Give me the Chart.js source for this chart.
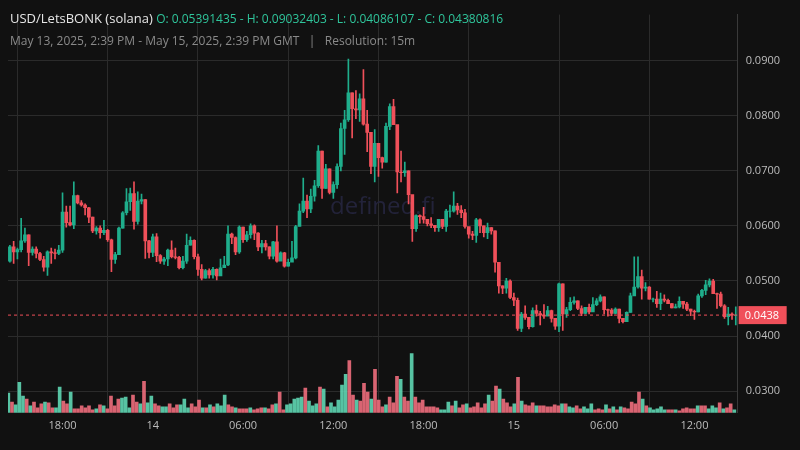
<!DOCTYPE html>
<html>
<head>
<meta charset="utf-8">
<script src="https://cdn.jsdelivr.net/npm/chart.js@4/dist/chart.umd.min.js"></script>
<style>
  body { margin: 0; background: #111111; font-family: "Open Sans", sans-serif; }
  #wrap { position: relative; width: 800px; height: 450px; }
  #head { position: absolute; left: 10px; top: 9px; font-size: 13px; color: #e6e6e6; }
  #head .ohlc { color: #2fc59b; font-size: 12px; }
  #sub { position: absolute; left: 10px; top: 32px; font-size: 12px; color: #8a8a8a; }
</style>
</head>
<body>
<div id="wrap">
  <canvas id="chart" width="800" height="450"></canvas>
  <div id="head">USD/LetsBONK (solana) <span class="ohlc">O: 0.05391435 - H: 0.09032403 - L: 0.04086107 - C: 0.04380816</span></div>
  <div id="sub">May 13, 2025, 2:39 PM - May 15, 2025, 2:39 PM GMT &nbsp;&nbsp;|&nbsp;&nbsp; Resolution: 15m</div>
</div>
<script>
// prices in units of 0.0001
const firstOpen = 536;
const closes = [
  562,553,557,573,584,552,558,550,539,525,553,551,550,556,625,606,602,655,642,638,633,616,591,596,588,592,575,539,548,596,624,644,
  659,608,645,648,573,552,580,546,536,540,556,544,543,524,536,565,574,544,521,505,519,511,521,509,524,529,585,579,553,598,575,584,
  600,587,562,568,562,545,571,536,551,527,534,542,599,627,645,631,654,673,736,668,704,661,675,708,777,793,842,813,811,831,785,770,
  708,750,724,716,781,817,784,698,697,700,657,595,619,617,612,604,601,597,612,599,627,627,636,629,624,599,585,583,611,600,588,597,
  591,534,491,487,500,470,465,414,440,434,417,446,441,438,436,446,432,418,495,440,448,461,464,450,441,452,444,457,464,471,448,447,
  441,449,432,426,443,473,489,508,487,489,467,467,459,467,465,459,451,453,463,458,449,445,444,473,483,493,500,477,476,455,435,440,438,438
];
const highs = [
  565,572,560,614,596,584,562,562,552,545,555,560,558,565,660,636,636,680,656,646,640,634,616,599,600,610,594,576,552,598,626,668,
  669,680,662,658,648,574,585,586,548,543,558,573,560,545,545,585,580,575,549,530,521,522,525,522,540,545,600,587,580,600,598,590,
  604,602,588,574,574,562,572,600,553,552,540,572,601,640,687,656,667,683,746,736,712,704,680,713,787,810,903,842,846,840,884,810,
  770,775,750,725,787,822,830,698,736,716,700,636,620,620,634,612,615,601,612,612,630,638,662,641,637,630,590,590,614,613,600,605,
  597,591,534,491,505,502,478,469,443,455,434,451,456,445,457,454,447,432,496,495,452,470,471,464,455,452,458,470,468,475,471,449,
  450,451,449,432,444,478,544,544,520,497,490,469,481,478,475,467,459,458,471,462,461,449,447,476,485,501,504,503,478,480,457,452,442,453
];
const lows = [
  534,532,540,553,570,528,547,542,537,518,510,532,540,548,552,598,600,595,640,636,620,606,588,585,578,584,572,517,532,570,596,620,
  628,594,603,640,541,542,544,535,532,530,528,542,540,522,522,532,565,540,510,502,505,505,505,502,522,526,528,568,548,550,570,572,
  578,575,555,551,556,540,540,534,537,525,527,540,540,600,624,615,624,645,670,650,668,658,650,668,700,730,790,760,795,790,783,735,
  695,680,690,705,716,775,784,660,680,690,640,572,590,605,605,600,597,590,590,595,590,616,625,621,615,596,578,575,570,588,580,577,
  585,516,478,477,478,468,455,410,408,430,413,416,436,420,432,437,425,412,408,410,434,446,458,448,437,440,440,445,455,462,440,436,
  437,440,424,424,426,443,485,487,467,482,467,462,452,448,462,459,451,451,451,450,446,437,430,444,470,475,489,477,450,453,432,420,430,420
];
// volume bar heights (relative)
const volumes = [
  60,33,24,93,51,42,21,33,15,27,33,30,15,15,78,36,27,63,12,12,21,15,21,9,12,24,21,12,51,21,42,45,48,15,54,33,27,96,30,51,27,21,18,18,27,15,24,24,42,15,27,18,39,15,15,24,18,27,21,54,24,18,15,12,12,12,15,
  9,12,15,15,12,24,27,63,9,24,27,42,45,48,75,36,21,27,78,72,18,30,18,39,84,117,159,54,39,36,90,63,42,132,39,18,24,48,30,111,102,48,36,180,48,30,39,18,18,18,15,9,9,33,21,36,15,24,27,15,18,30,15,27,54,36,81,72,
  42,30,18,27,108,36,24,21,30,21,21,21,18,18,24,21,27,27,18,15,21,12,18,12,27,9,12,9,24,12,18,9,18,15,12,33,27,63,42,21,15,9,12,18,9,9,9,9,6,12,15,12,12,21,21,21,12,21,15,30,12,15,27,9
];
// indexes of green (up) volume bars
const volumeGreen = [0,2,3,4,6,10,13,14,17,24,26,31,32,33,36,38,39,42,43,47,48,49,53,55,57,58,59,62,66,
  70,73,76,77,78,79,80,82,83,84,86,88,89,90,91,92,95,99,103,107,110,118,119,120,122,125,131,134,
  138,140,144,151,153,154,157,158,159,163,165,167,173,175,176,177,178,179,182,188,191,192,193,195,198,199];
const lastPrice = 438;

const opens = [firstOpen].concat(closes.slice(0, -1));
const start = new Date(Date.UTC(2025, 4, 13, 14, 30));
const labels = closes.map((_, i) => new Date(start.getTime() + i * 15 * 60000));
const volLabels = volumes.map((_, i) => i);
const greenSet = new Set(volumeGreen);
const volColors = volumes.map((_, i) => greenSet.has(i) ? 'rgba(95,215,180,0.9)' : 'rgba(240,110,125,0.9)');

const green = '#1fae8c', red = '#f0505a';
const colors = closes.map((c, i) => c >= opens[i] ? green : red);

const isMajor = d => d.getUTCMinutes() === 0 && d.getUTCHours() % 6 === 0;

const overlay = {
  id: 'overlay',
  beforeDatasetsDraw(chart) {
    const { ctx, chartArea } = chart;
    ctx.save();
    ctx.fillStyle = '#23233a';
    ctx.font = '24px "Open Sans"';
    ctx.textAlign = 'center';
    ctx.textBaseline = 'middle';
    ctx.fillText('defined.fi', (chartArea.left + chartArea.right) / 2 + 10, 207);
    ctx.restore();
  },
  afterDatasetsDraw(chart) {
    const { ctx, chartArea } = chart;
    const y = chart.scales.y.getPixelForValue(lastPrice / 10000);
    ctx.save();
    ctx.strokeStyle = '#f0505a';
    ctx.setLineDash([3, 3]);
    ctx.beginPath();
    ctx.moveTo(chartArea.left, y);
    ctx.lineTo(chartArea.right, y);
    ctx.stroke();
    ctx.setLineDash([]);
    ctx.fillStyle = '#f0505a';
    ctx.fillRect(chartArea.right + 1, y - 9, 48, 18);
    ctx.fillStyle = '#ffffff';
    ctx.font = '11px "Open Sans"';
    ctx.textBaseline = 'middle';
    ctx.fillText((lastPrice / 10000).toFixed(4), chartArea.right + 7, y + 1);
    ctx.restore();
  }
};

new Chart(document.getElementById('chart'), {
  type: 'bar',
  data: {
    labels: labels,
    datasets: [
      {
        data: volumes,
        xAxisID: 'xv', yAxisID: 'yv',
        backgroundColor: volColors,
        barThickness: 3,
        order: 3
      },
      {
        data: closes.map((c, i) => [lows[i] / 10000, highs[i] / 10000]),
        backgroundColor: colors,
        barThickness: 1,
        grouped: false,
        order: 2
      },
      {
        data: closes.map((c, i) => [opens[i] / 10000, c / 10000]),
        backgroundColor: colors,
        barThickness: 3,
        grouped: false,
        order: 1
      }
    ]
  },
  options: {
    responsive: false,
    animation: false,
    layout: { padding: { left: 8, top: 2, right: 12, bottom: 12 } },
    plugins: { legend: { display: false }, tooltip: { enabled: false } },
    scales: {
      x: {
        type: 'category',
        offset: true,
        border: { display: false },
        grid: {
          color: c => (c.tick && labels[c.tick.value] && isMajor(labels[c.tick.value])) ? '#2b2b2b' : 'transparent',
          drawTicks: false
        },
        ticks: {
          autoSkip: false, maxRotation: 0, padding: 6,
          color: '#bdbdbd',
          font: c => {
            const d = labels[c.index];
            return { family: 'Open Sans', size: 11, weight: d && d.getUTCHours() === 0 ? 'bold' : 'normal' };
          },
          callback: function (v, i) {
            const d = labels[i];
            if (!isMajor(d)) return null;
            if (d.getUTCHours() === 0) return String(d.getUTCDate());
            return String(d.getUTCHours()).padStart(2, '0') + ':00';
          }
        }
      },
      xv: { type: 'category', labels: volLabels, display: false, offset: true },
      y: {
        position: 'right',
        min: 0.02605, max: 0.0984,
        border: { display: true, color: '#3a3a3a' },
        grid: { color: '#2b2b2b', drawTicks: false },
        afterBuildTicks: axis => {
          axis.ticks = axis.ticks.filter(t => Math.abs(t.value * 100 - Math.round(t.value * 100)) < 1e-6);
        },
        ticks: {
          stepSize: 0.01, padding: 8, color: '#bdbdbd',
          font: { family: 'Open Sans', size: 11 },
          callback: v => v.toFixed(4)
        }
      },
      yv: { display: false, min: 0, max: 1212 }
    }
  },
  plugins: [overlay]
});
</script>
</body>
</html>
